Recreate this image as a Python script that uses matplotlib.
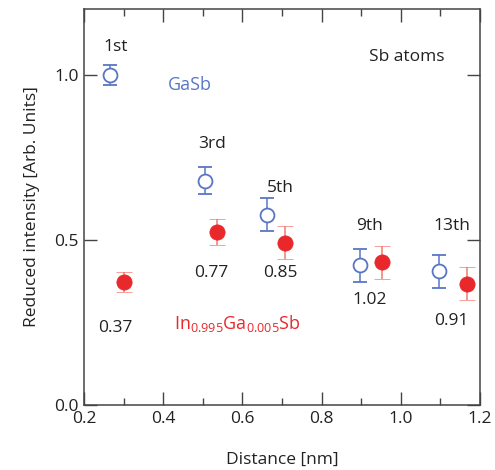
import matplotlib
matplotlib.use("Agg")
import matplotlib.pyplot as plt
from matplotlib.ticker import MultipleLocator, FixedLocator

plt.rcParams['font.family'] = ['Open Sans', 'DejaVu Sans']
plt.rcParams['mathtext.fontset'] = 'custom'
plt.rcParams['mathtext.rm'] = 'Open Sans'
plt.rcParams['mathtext.it'] = 'Open Sans:italic'

# ---- data ----
gasb_x = [0.266, 0.506, 0.662, 0.897, 1.096]
gasb_y = [1.00, 0.68, 0.576, 0.424, 0.405]
gasb_err = [0.03, 0.04, 0.05, 0.05, 0.05]

ingasb_x = [0.301, 0.536, 0.708, 0.953, 1.167]
ingasb_y = [0.372, 0.524, 0.492, 0.432, 0.368]
ingasb_err = [0.03, 0.04, 0.05, 0.05, 0.05]

shell_labels = ['1st', '3rd', '5th', '9th', '13th']
ratio_labels = ['0.37', '0.77', '0.85', '1.02', '0.91']

x_ticks = [0.2, 0.4, 0.6, 0.8, 1.0, 1.2]
y_ticks = [0.0, 0.5, 1.0]

# text positions (data coords)
shell_pos = [(0.281, 1.085), (0.523, 0.791), (0.697, 0.658), (0.922, 0.542), (1.129, 0.542)]
ratio_pos = [(0.278, 0.233), (0.521, 0.400), (0.695, 0.400), (0.922, 0.318), (1.127, 0.255)]

blue = '#5876c4'
red_m = '#e8282b'
red_e = '#f07a6e'
txt = '#222222'

fig = plt.figure(figsize=(4.95, 4.70), dpi=100)
ax = fig.add_axes([84/495, 65/470, 396/495, 396/470])

ax.errorbar(gasb_x, gasb_y, yerr=gasb_err, fmt='o', ms=10, mfc='white',
            mec=blue, mew=1.3, ecolor=blue, elinewidth=1.1, capsize=5.2,
            capthick=1.1, zorder=3)
ax.errorbar(ingasb_x, ingasb_y, yerr=ingasb_err, fmt='o', ms=11, mfc=red_m,
            mec=red_m, mew=0.5, ecolor=red_e, elinewidth=1.1, capsize=5.8,
            capthick=1.1, zorder=3)

ax.set_xlim(0.2, 1.2)
ax.set_ylim(0.0, 1.2)
ax.xaxis.set_major_locator(FixedLocator(x_ticks))
ax.xaxis.set_minor_locator(MultipleLocator(0.1))
ax.yaxis.set_major_locator(FixedLocator(y_ticks))
ax.set_xticklabels([f'{v:.1f}' for v in x_ticks])
ax.set_yticklabels([f'{v:.1f}' for v in y_ticks])

ax.tick_params(which='both', direction='in', top=True, right=True,
               color='#444444', width=1.0, labelsize=12.5, labelcolor=txt)
ax.tick_params(which='major', length=9.5, pad=4)
ax.tick_params(which='minor', length=5)
for s in ax.spines.values():
    s.set_color('#444444')
    s.set_linewidth(1.1)

ax.set_xlabel('Distance [nm]', fontsize=12.5, color=txt, labelpad=18)
ax.set_ylabel('Reduced intensity [Arb. Units]', fontsize=12.5, color=txt, labelpad=10)

for lab, (x, y) in zip(shell_labels, shell_pos):
    ax.text(x, y, lab, ha='center', va='center', fontsize=12.5, color=txt)
for lab, (x, y) in zip(ratio_labels, ratio_pos):
    ax.text(x, y, lab, ha='center', va='center', fontsize=12.5, color=txt)

ax.text(1.016, 1.055, 'Sb atoms', ha='center', va='center', fontsize=12.5, color=txt)
ax.text(0.468, 0.970, 'GaSb', ha='center', va='center', fontsize=13, color=blue)
ax.text(0.586, 0.248, r'In$_{0.995}$Ga$_{0.005}$Sb', ha='center', va='center',
        fontsize=13, color=red_m)

fig.savefig('out.png', dpi=100)
